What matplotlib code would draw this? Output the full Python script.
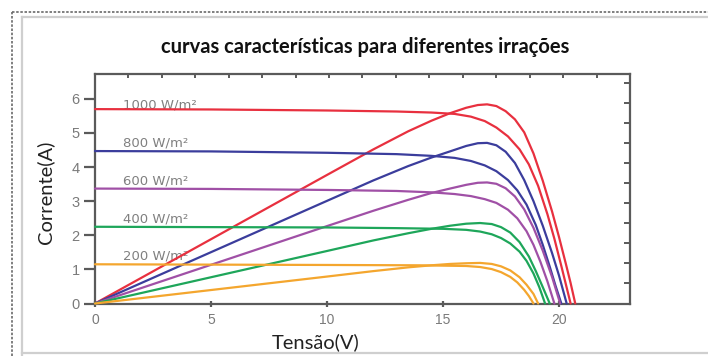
from __future__ import annotations

import matplotlib
import matplotlib.pyplot as plt
from matplotlib.lines import Line2D
from matplotlib.ticker import MultipleLocator


matplotlib.use("Agg")

WIDTH, HEIGHT, DPI = 708, 356, 100

irradiances = ["1000 W/m²", "800 W/m²", "600 W/m²", "400 W/m²", "200 W/m²"]
colors = ["#e8303f", "#3b3d9c", "#a050a6", "#1ea65a", "#f4a62e"]

# I-V curves (current in A against voltage in V)
iv_v_1000 = [0, 5, 10, 13, 14.5, 15.5, 16.2, 16.8, 17.3, 17.8, 18.3, 18.7, 19.1, 19.5, 19.8, 20.1, 20.3, 20.5]
iv_i_1000 = [5.70, 5.69, 5.66, 5.63, 5.60, 5.56, 5.48, 5.35, 5.16, 4.90, 4.52, 4.08, 3.45, 2.62, 1.90, 1.10, 0.55, 0]
iv_v_800 = [0, 5, 10, 13, 14.5, 15.5, 16.2, 16.8, 17.3, 17.8, 18.2, 18.6, 19.0, 19.3, 19.6, 19.85, 20.1]
iv_i_800 = [4.47, 4.46, 4.42, 4.38, 4.33, 4.27, 4.18, 4.05, 3.88, 3.62, 3.32, 2.90, 2.30, 1.72, 1.08, 0.52, 0]
iv_v_600 = [0, 5, 10, 13, 14.5, 15.5, 16.2, 16.8, 17.3, 17.8, 18.2, 18.6, 18.9, 19.2, 19.5, 19.8]
iv_i_600 = [3.37, 3.36, 3.33, 3.30, 3.26, 3.21, 3.15, 3.06, 2.95, 2.75, 2.50, 2.12, 1.72, 1.22, 0.65, 0]
iv_v_400 = [0, 5, 10, 13, 15, 16.0, 16.6, 17.1, 17.5, 17.9, 18.3, 18.6, 18.9, 19.15, 19.4]
iv_i_400 = [2.25, 2.24, 2.23, 2.21, 2.19, 2.16, 2.11, 2.03, 1.92, 1.76, 1.52, 1.25, 0.88, 0.48, 0]
iv_v_200 = [0, 5, 10, 14, 16.0, 16.6, 17.1, 17.5, 17.9, 18.2, 18.5, 18.7, 18.9]
iv_i_200 = [1.15, 1.14, 1.13, 1.12, 1.10, 1.07, 1.01, 0.92, 0.78, 0.62, 0.40, 0.22, 0]

# P-V curves, power scaled onto the current axis
pv_v_1000 = [0, 10, 12, 13.5, 14.5, 15.3, 16.0, 16.5, 16.9, 17.3, 17.7, 18.1, 18.5, 18.9, 19.3, 19.7, 20.0, 20.3, 20.5, 20.7]
pv_p_1000 = [0, 3.77, 4.52, 5.05, 5.36, 5.58, 5.74, 5.82, 5.84, 5.79, 5.64, 5.40, 5.02, 4.40, 3.60, 2.70, 1.95, 1.15, 0.60, 0]
pv_v_800 = [0, 10, 12, 13.5, 14.5, 15.3, 16.0, 16.5, 16.9, 17.3, 17.7, 18.1, 18.5, 18.9, 19.3, 19.7, 20.0, 20.33]
pv_p_800 = [0, 3.01, 3.61, 4.03, 4.28, 4.46, 4.62, 4.70, 4.71, 4.64, 4.45, 4.12, 3.62, 3.00, 2.28, 1.48, 0.82, 0]
pv_v_600 = [0, 10, 12, 13.5, 14.5, 15.3, 16.0, 16.5, 16.9, 17.3, 17.7, 18.1, 18.5, 18.9, 19.3, 19.7, 20.05]
pv_p_600 = [0, 2.27, 2.72, 3.04, 3.24, 3.37, 3.48, 3.54, 3.55, 3.51, 3.38, 3.14, 2.76, 2.22, 1.55, 0.78, 0]
pv_v_400 = [0, 10, 12, 13.5, 14.5, 15.3, 16.0, 16.6, 17.1, 17.5, 17.9, 18.3, 18.7, 19.0, 19.3, 19.6]
pv_p_400 = [0, 1.54, 1.85, 2.06, 2.19, 2.28, 2.34, 2.36, 2.33, 2.24, 2.08, 1.80, 1.38, 0.95, 0.48, 0]
pv_v_200 = [0, 10, 12, 13.5, 14.5, 15.3, 16.0, 16.6, 17.1, 17.5, 17.9, 18.3, 18.6, 18.9, 19.1]
pv_p_200 = [0, 0.79, 0.95, 1.06, 1.12, 1.16, 1.18, 1.19, 1.16, 1.09, 0.97, 0.77, 0.55, 0.28, 0]

iv_curves = [
	(iv_v_1000, iv_i_1000),
	(iv_v_800, iv_i_800),
	(iv_v_600, iv_i_600),
	(iv_v_400, iv_i_400),
	(iv_v_200, iv_i_200),
]
pv_curves = [
	(pv_v_1000, pv_p_1000),
	(pv_v_800, pv_p_800),
	(pv_v_600, pv_p_600),
	(pv_v_400, pv_p_400),
	(pv_v_200, pv_p_200),
]
label_y = [5.82, 4.71, 3.60, 2.49, 1.38]

x_ticks = [0, 5, 10, 15, 20]
y_ticks = [0, 1, 2, 3, 4, 5, 6]

SPINE = "#5a5a5a"
TICK_TEXT = "#7a7a7a"


def create_figure(width: int, height: int, dpi: int):
	fig = plt.figure(figsize=(width / dpi, height / dpi), dpi=dpi)
	fig.patch.set_facecolor("white")
	ax = fig.add_axes([95 / width, 1 - 303.5 / height, 535 / width, 229.5 / height])
	return fig, ax


def draw_frame(fig) -> None:
	# dotted outer border and the light inner one
	dark = dict(color="#6a6a6a", lw=1.2, ls=(0, (1.5, 1)))
	light = dict(color="#cfcfcf", lw=1.6)
	fig.add_artist(Line2D([12 / WIDTH, 12 / WIDTH], [0, 1 - 12 / HEIGHT], **dark))
	fig.add_artist(Line2D([12 / WIDTH, 1], [1 - 12 / HEIGHT, 1 - 12 / HEIGHT], **dark))
	fig.add_artist(Line2D([22 / WIDTH, 22 / WIDTH], [0, 1 - 17 / HEIGHT], **light))
	fig.add_artist(Line2D([22 / WIDTH, 1], [1 - 17 / HEIGHT, 1 - 17 / HEIGHT], **light))
	fig.add_artist(Line2D([22 / WIDTH, 1], [3 / HEIGHT, 3 / HEIGHT], **light))


def style_axes(ax) -> None:
	ax.set_xlim(0, 23.06)
	ax.set_ylim(0, 6.73)
	for spine in ax.spines.values():
		spine.set_color(SPINE)
		spine.set_linewidth(1.6)
	ax.set_xticks(x_ticks)
	ax.set_yticks(y_ticks)
	ax.xaxis.set_minor_locator(MultipleLocator(23.06 / 16))
	ax.yaxis.set_minor_locator(MultipleLocator(20 / 34.1))
	ax.tick_params(axis="y", which="major", direction="out", length=8, width=1.6,
		color=SPINE, labelcolor=TICK_TEXT, labelsize=10.5, pad=3, left=True, right=False)
	ax.tick_params(axis="x", which="major", direction="inout", length=4, width=1.6,
		color=SPINE, labelcolor=TICK_TEXT, labelsize=10, pad=5, bottom=True, top=False)
	ax.tick_params(axis="x", which="minor", direction="in", length=3, width=1.4,
		color=SPINE, bottom=False, top=True)
	ax.tick_params(axis="y", which="minor", direction="in", length=4, width=1.4,
		color=SPINE, left=False, right=True)
	for label in ax.get_xticklabels() + ax.get_yticklabels():
		label.set_family("Liberation Sans")


fig, ax = create_figure(WIDTH, HEIGHT, DPI)
draw_frame(fig)
style_axes(ax)

line_style = dict(lw=1.6, solid_capstyle="round", solid_joinstyle="round", clip_on=False, zorder=3)
for (v, i), (pv, p), color in zip(iv_curves, pv_curves, colors):
	ax.plot(v, i, color=color, **line_style)
	ax.plot(pv, p, color=color, **line_style)

for text, y in zip(irradiances, label_y):
	ax.text(1.2, y, text, color="#808080", fontsize=9.5, family="DejaVu Sans",
		va="center", ha="left", zorder=2)

fig.text(365 / WIDTH, 1 - 47 / HEIGHT, "curvas características para diferentes irrações",
	ha="center", va="center", fontsize=14.5, fontweight="bold", family="Lato", color="#111111")
fig.text(316 / WIDTH, 1 - 342 / HEIGHT, "Tensão(V)", ha="center", va="center",
	fontsize=14.5, family="Lato", color="#222222")
fig.text(45 / WIDTH, 1 - 192 / HEIGHT, "Corrente(A)", ha="center", va="center",
	rotation=90, fontsize=14.5, family="Lato", color="#222222")

fig.savefig("out.png", dpi=DPI)
plt.close(fig)
